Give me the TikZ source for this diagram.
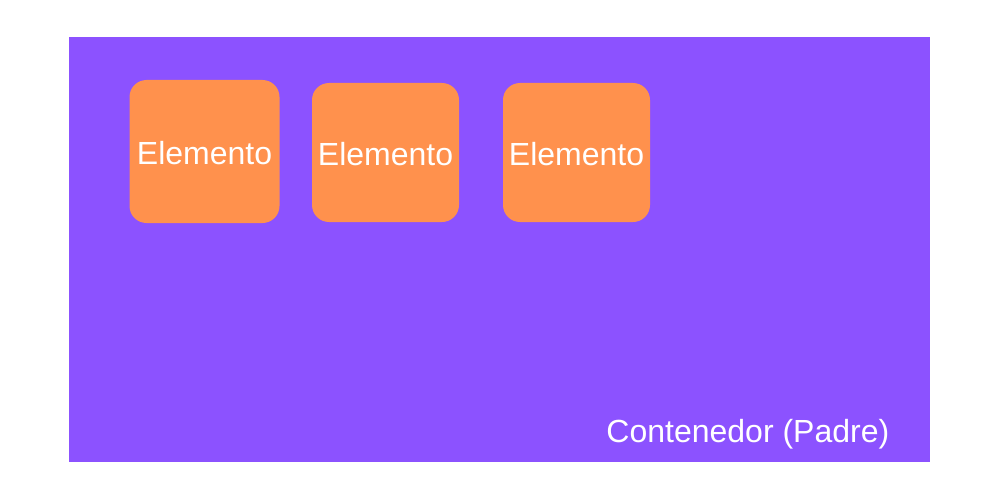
\documentclass[tikz,border=0pt]{standalone}
\usepackage{fontspec}
\setmainfont{Liberation Sans}
\usepackage{xcolor}
\usetikzlibrary{positioning}
\definecolor{padre}{HTML}{8C52FF}
\definecolor{hijo}{HTML}{FF914D}

\begin{document}
\begin{tikzpicture}[x=1pt,y=-1pt,line join=round,
  elemento/.style={fill=hijo,rounded corners=17pt,inner sep=0pt,
    text=white,text height=25.5pt,text depth=0pt,font=\fontsize{32}{36}\selectfont}]
  \useasboundingbox (0,0) rectangle (1000,500);
  \coordinate (TL) at (69,37);
  \coordinate (BR) at (930,462);
  \fill[padre] (TL) rectangle (BR);
  \node[elemento,minimum width=150pt,minimum height=143pt] (E1) at (204.5,151.5) {Elemento};
  \node[elemento,minimum width=147pt,minimum height=139pt] (E2) at (385.5,152.5) {Elemento};
  \node[elemento,minimum width=147pt,minimum height=139pt] (E3) at (576.5,152.5) {Elemento};
  \node[anchor=base east,inner sep=0pt,text=white,font=\fontsize{32}{36}\selectfont] (P) at (889.5,442) {Contenedor (Padre)};
\end{tikzpicture}
\end{document}
